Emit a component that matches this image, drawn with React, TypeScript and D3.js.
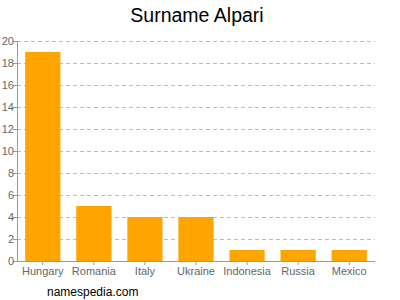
import React from "react";
import * as d3 from "d3";

const categories = ["Hungary", "Romania", "Italy", "Ukraine", "Indonesia", "Russia", "Mexico"];
const values = [19, 5, 4, 4, 1, 1, 1];
const yTicks = [0, 2, 4, 6, 8, 10, 12, 14, 16, 18, 20];
const title = "Surname Alpari";
const footer = "namespedia.com";

export default function App() {
  const W = 400, H = 300;
  const left = 17, right = 375, top = 41, bottom = 261;
  const x = d3.scaleBand<string>().domain(categories).range([left, right]).paddingInner(0.31).paddingOuter(0.16);
  const y = d3.scaleLinear().domain([0, 20]).range([bottom, top]);
  const font = "Liberation Sans, Arial, sans-serif";
  return (
    <svg width={W} height={H} style={{ position: "absolute", left: 0, top: 0 }} fontFamily={font}>
      <rect width={W} height={H} fill="#fff" />
      <text x={197} y={22} textAnchor="middle" fontSize={19.5} fill="#000">{title}</text>
      {yTicks.map((t) => (
        <g key={t}>
          {t > 0 && (
            <line x1={left} x2={right} y1={y(t) + 0.5} y2={y(t) + 0.5} stroke="#bbb" strokeDasharray="4,3" />
          )}
          <line x1={left - 4} x2={left} y1={y(t) + 0.5} y2={y(t) + 0.5} stroke="#999" />
          <text x={left - 3} y={y(t) + 4} textAnchor="end" fontSize={11} fill="#666">{t}</text>
        </g>
      ))}
      {categories.map((c, i) => (
        <rect key={c} x={x(c)} y={y(values[i])} width={x.bandwidth()} height={bottom - y(values[i])} fill="#ffa500" />
      ))}
      <line x1={left + 0.5} x2={left + 0.5} y1={top} y2={bottom} stroke="#999" />
      <line x1={left} x2={right} y1={bottom + 0.5} y2={bottom + 0.5} stroke="#999" />
      {categories.map((c) => (
        <g key={c}>
          <line x1={x(c)! + x.bandwidth() / 2} x2={x(c)! + x.bandwidth() / 2} y1={bottom} y2={bottom + 4} stroke="#999" />
          <text x={x(c)! + x.bandwidth() / 2} y={bottom + 14} textAnchor="middle" fontSize={11} fill="#666">{c}</text>
        </g>
      ))}
      <text x={47} y={296} fontSize={12} fill="#000">{footer}</text>
    </svg>
  );
}
